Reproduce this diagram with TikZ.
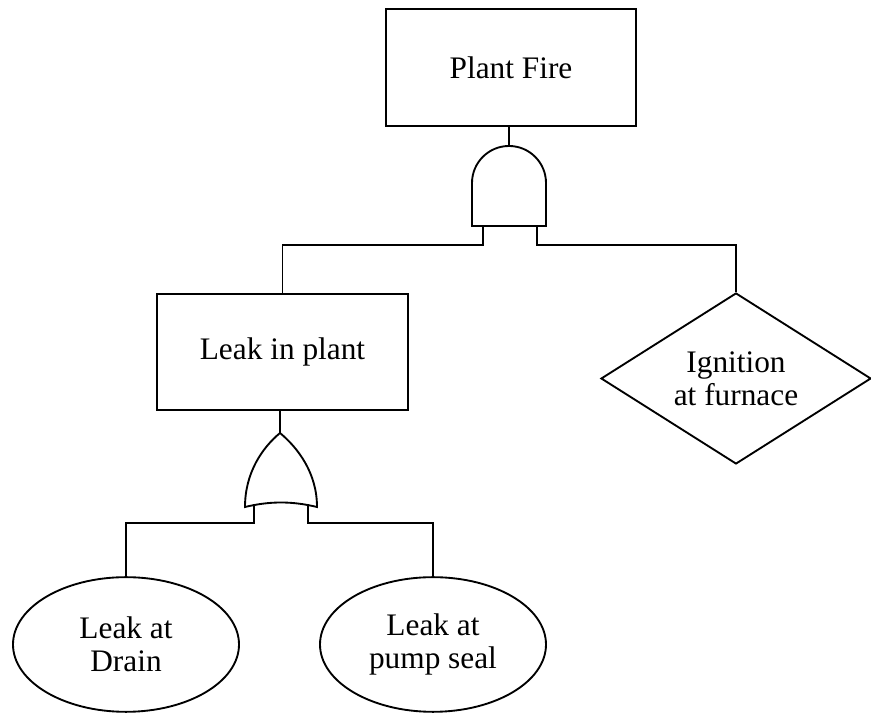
\documentclass[tikz,border=0pt]{standalone}
\usepackage{fontspec}
\setmainfont{Liberation Serif}
\usetikzlibrary{shapes.geometric}

\begin{document}
\begin{tikzpicture}[x=0.75pt,y=0.75pt,line width=1.4pt,
  font=\fontsize{23.5}{25}\selectfont,
  box/.style={draw,rectangle,minimum width=188pt,minimum height=87.5pt},
  basic/.style={draw,ellipse,minimum width=169.5pt,minimum height=101pt,inner sep=0pt,align=center},
  undev/.style={draw,diamond,minimum width=202.5pt,minimum height=128.25pt,aspect=1.58,inner sep=0pt,align=center}]
  \useasboundingbox (0,0) rectangle (871,713);
  \node[box] (fire) at (511,645.5) {Plant Fire};
  \node[box] (leak) at (282.5,361) {Leak in plant};
  \node[undev] (ign) at (736,334.5) {Ignition\\at furnace};
  \node[basic] (drain) at (126,68.5) {Leak at\\Drain};
  \node[basic] (seal) at (433,68.5) {Leak at\\pump seal};
  % and gate
  \coordinate (and) at (509,567);
  \coordinate (and-l) at (483,487);
  \coordinate (and-r) at (537,487);
  \draw (472,487) -- (472,530) arc[start angle=180,end angle=0,radius=37] -- (546,487) -- cycle;
  \draw (and) -- (and |- fire.south);
  \draw (and-l) -- ++(0,-19) -| (leak.north);
  \draw (and-r) -- ++(0,-19) -| (ign.north);
  % or gate
  \coordinate (or) at (280,280);
  \coordinate (or-l) at (254,208.5);
  \coordinate (or-r) at (308,208.5);
  \draw (or) .. controls (262,265) and (245,240) .. (245,206)
    .. controls (270,212) and (292,212) .. (317,206)
    .. controls (317,240) and (298,265) .. (or) -- cycle;
  \draw (or) -- (or |- leak.south);
  \draw (or-l) -- ++(0,-18.5) -| (drain.north);
  \draw (or-r) -- ++(0,-18.5) -| (seal.north);
\end{tikzpicture}
\end{document}
